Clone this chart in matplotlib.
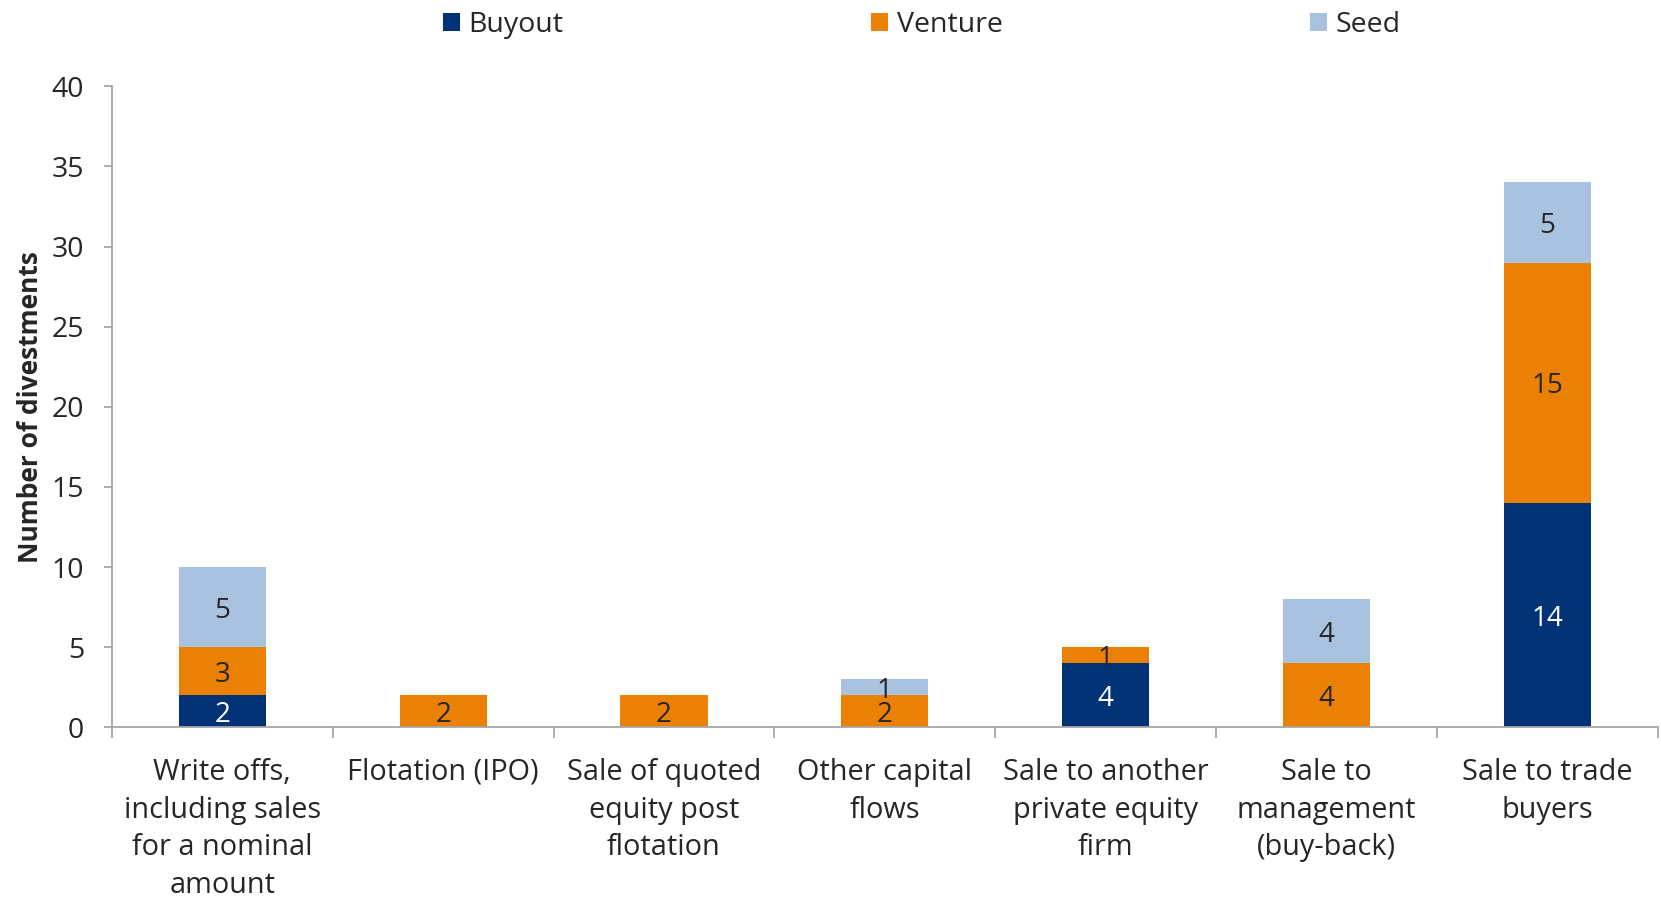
import numpy as np
import matplotlib
matplotlib.use("Agg")
import matplotlib.pyplot as plt
from matplotlib.patches import Patch

plt.rcParams['font.family'] = ['Open Sans', 'DejaVu Sans']

categories = ["Write offs,\nincluding sales\nfor a nominal\namount",
              "Flotation (IPO)",
              "Sale of quoted\nequity post\nflotation",
              "Other capital\nflows",
              "Sale to another\nprivate equity\nfirm",
              "Sale to\nmanagement\n(buy-back)",
              "Sale to trade\nbuyers"]
buyout = [2, 0, 0, 0, 4, 0, 14]
venture = [3, 2, 2, 2, 1, 4, 15]
seed = [5, 0, 0, 1, 0, 4, 5]

series = [("Buyout", buyout, "#003275", "white"),
          ("Venture", venture, "#EA8104", "#262626"),
          ("Seed", seed, "#A8C2E0", "#262626")]

fig = plt.figure(figsize=(16.61, 8.99), dpi=100)
ax = fig.add_axes([0.0674, 0.191, 0.9306, 0.713])

x = np.arange(len(categories))
bottom = np.zeros(len(categories))
handles = []
for name, vals, color, tcol in series:
    vals = np.array(vals, dtype=float)
    bars = ax.bar(x, vals, 0.395, bottom=bottom, color=color, edgecolor='none')
    for xi, v, b in zip(x, vals, bottom):
        if v > 0:
            ax.text(xi, b + v / 2, f"{int(v)}", ha='center', va='center_baseline',
                    color=tcol, fontsize=20)
    bottom += vals
    handles.append(Patch(facecolor=color, label=name))

ax.set_xlim(-0.5, len(categories) - 0.5)
ax.set_ylim(0, 40)
ax.set_yticks(range(0, 41, 5))
ax.set_xticks(x)
ax.set_xticklabels(categories, fontsize=20.8, color='#262626', linespacing=1.4, va='top')
ax.set_xticks(np.arange(-0.5, len(categories), 1), minor=True)
ax.tick_params(axis='x', which='major', length=0, pad=22)
ax.tick_params(axis='x', which='minor', length=8, width=1.3, color='#A6A6A6', direction='out')
ax.tick_params(axis='y', length=6, width=1.3, color='#A6A6A6', pad=14,
               labelsize=20.5, labelcolor='#262626')

for s in ['top', 'right']:
    ax.spines[s].set_visible(False)
for s in ['left', 'bottom']:
    ax.spines[s].set_color('#A6A6A6')
    ax.spines[s].set_linewidth(1.3)

ax.set_ylabel("Number of divestments", fontsize=19, fontweight='bold', color='#262626')
ax.yaxis.set_label_coords(-0.044, 0.5)

fig.legend(handles=handles, loc='center', bbox_to_anchor=(0.555, 0.972), ncol=3,
           frameon=False, fontsize=20.5, handlelength=0.6, handleheight=0.6,
           handletextpad=0.3, columnspacing=10.8, labelcolor='#262626')

fig.savefig("out.png", dpi=100)
